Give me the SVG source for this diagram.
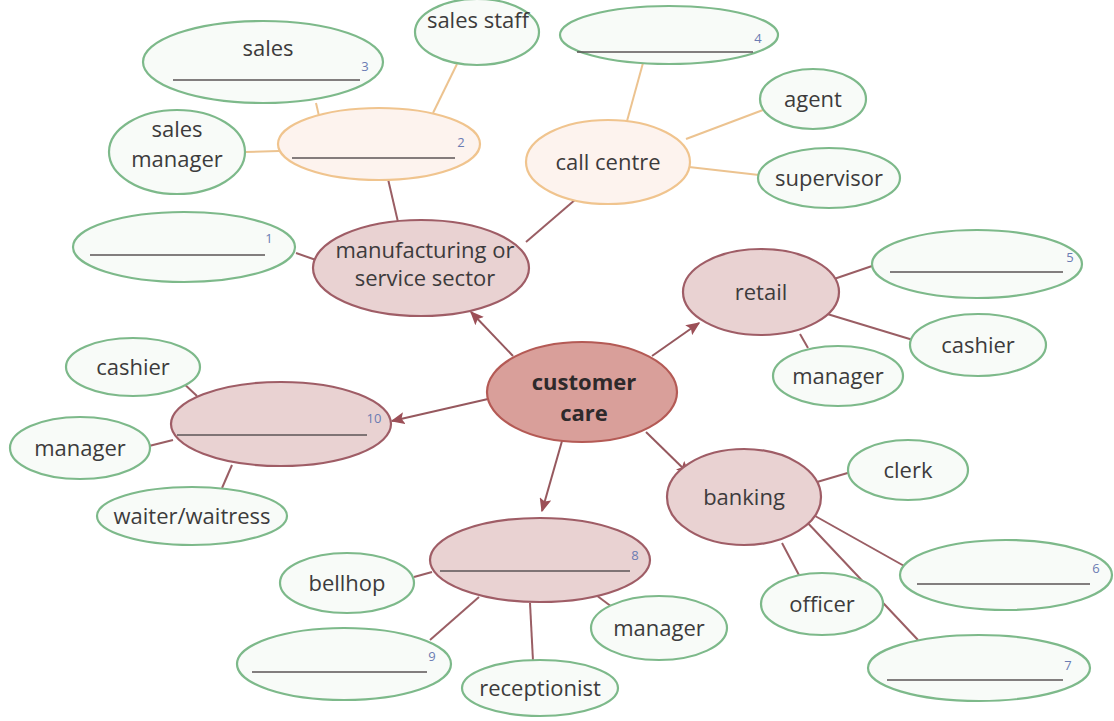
<svg xmlns="http://www.w3.org/2000/svg" width="1114" height="721" viewBox="0 0 1114 721">
<defs>
<marker id="ah" viewBox="0 0 10 10" refX="9" refY="5" markerWidth="14" markerHeight="12" orient="auto" markerUnits="userSpaceOnUse" preserveAspectRatio="none">
<path d="M0,0 L10,5 L0,10 L2,5 Z" fill="#9c4f57"/>
</marker>
<style>
.g{fill:#f8fbf8;stroke:#7db98a;stroke-width:2.2}
.o{fill:#fdf3ee;stroke:#f0c48e;stroke-width:2.2}
.s{fill:#e9d2d2;stroke:#9f5d66;stroke-width:2.2}
.c{fill:#d99f9a;stroke:#b45a55;stroke-width:2.2}
.t{font-family:"Open Sans","Noto Sans",sans-serif;font-size:22px;fill:#3d3b3c;text-anchor:middle}
.tb{font-family:"Open Sans","Noto Sans",sans-serif;font-size:22px;font-weight:bold;fill:#2e2a2b;text-anchor:middle}
.n{font-family:"Open Sans","Noto Sans",sans-serif;font-size:13px;fill:#6b7cb3;text-anchor:middle}
.bl{stroke:#5b5556;stroke-width:1.6}
.lm{stroke:#9a5e64;stroke-width:2;fill:none}
.lo{stroke:#ecc390;stroke-width:2;fill:none}
.la{stroke:#96585e;stroke-width:2;fill:none}
</style>
</defs>
<g id="connectors">
<line class="lm" x1="296" y1="253" x2="316" y2="260"/>
<line class="lm" x1="388" y1="179" x2="398" y2="222"/>
<line class="lm" x1="526" y1="242" x2="576" y2="199"/>
<line class="lo" x1="433" y1="113" x2="457" y2="64"/>
<line class="lo" x1="316" y1="103" x2="319" y2="116"/>
<line class="lo" x1="245" y1="152" x2="279" y2="151"/>
<line class="lo" x1="627" y1="121" x2="643" y2="63"/>
<line class="lo" x1="686" y1="139" x2="763" y2="110"/>
<line class="lo" x1="689" y1="167" x2="759" y2="175"/>
<line class="lm" x1="834" y1="279" x2="875" y2="265"/>
<line class="lm" x1="824" y1="313" x2="913" y2="340"/>
<line class="lm" x1="800" y1="334" x2="808" y2="348"/>
<line class="lm" x1="181" y1="381" x2="197" y2="396"/>
<line class="lm" x1="149" y1="446" x2="173" y2="440"/>
<line class="lm" x1="232" y1="465" x2="222" y2="488"/>
<line class="lm" x1="817" y1="482" x2="851" y2="472"/>
<line class="lm" x1="808" y1="512" x2="906" y2="567"/>
<line class="lm" x1="782" y1="543" x2="800" y2="577"/>
<line class="lm" x1="805" y1="520" x2="918" y2="640"/>
<line class="lm" x1="414" y1="577" x2="432" y2="572"/>
<line class="lm" x1="479" y1="597" x2="430" y2="640"/>
<line class="lm" x1="530" y1="603" x2="533" y2="661"/>
<line class="lm" x1="596" y1="595" x2="612" y2="607"/>
<line class="la" x1="513" y1="356" x2="471" y2="312" marker-end="url(#ah)"/>
<line class="la" x1="652" y1="356" x2="699" y2="323" marker-end="url(#ah)"/>
<line class="la" x1="488" y1="399" x2="392" y2="421" marker-end="url(#ah)"/>
<line class="la" x1="562" y1="441" x2="542" y2="511" marker-end="url(#ah)"/>
<line class="la" x1="646" y1="432" x2="689" y2="474" marker-end="url(#ah)"/>
</g>
<g id="n3"><ellipse class="g" cx="263" cy="62" rx="120" ry="41"/><text class="t" x="268" y="56">sales</text><line class="bl" x1="173" y1="80" x2="360" y2="80"/><text class="n" x="365" y="71">3</text></g>
<g id="sales-staff"><ellipse class="g" cx="477" cy="32" rx="62" ry="33"/><text class="t" x="478" y="28">sales staff</text></g>
<g id="n4"><ellipse class="g" cx="669" cy="35" rx="109" ry="29"/><line class="bl" x1="577" y1="52" x2="753" y2="52"/><text class="n" x="758" y="43">4</text></g>
<g id="sales-manager"><ellipse class="g" cx="177" cy="152" rx="68" ry="42"/><text class="t" x="177" y="137">sales</text><text class="t" x="177" y="167">manager</text></g>
<g id="n2"><ellipse class="o" cx="379" cy="144" rx="101" ry="36"/><line class="bl" x1="292" y1="158" x2="455" y2="158"/><text class="n" x="461" y="147">2</text></g>
<g id="call-centre"><ellipse class="o" cx="608" cy="162" rx="82" ry="42"/><text class="t" x="608" y="170">call centre</text></g>
<g id="agent"><ellipse class="g" cx="813" cy="99" rx="53" ry="30"/><text class="t" x="813" y="107">agent</text></g>
<g id="supervisor"><ellipse class="g" cx="829" cy="178" rx="71" ry="30"/><text class="t" x="829" y="186">supervisor</text></g>
<g id="n1"><ellipse class="g" cx="184" cy="247" rx="111" ry="35"/><line class="bl" x1="90" y1="255" x2="265" y2="255"/><text class="n" x="269" y="243">1</text></g>
<g id="manufacturing"><ellipse class="s" cx="421" cy="268" rx="108" ry="48"/><text class="t" x="425" y="258">manufacturing or</text><text class="t" x="425" y="286">service sector</text></g>
<g id="retail"><ellipse class="s" cx="761" cy="292" rx="78" ry="43"/><text class="t" x="761" y="300">retail</text></g>
<g id="n5"><ellipse class="g" cx="977" cy="264" rx="105" ry="34"/><line class="bl" x1="890" y1="272" x2="1063" y2="272"/><text class="n" x="1070" y="262">5</text></g>
<g id="cashier-r"><ellipse class="g" cx="978" cy="345" rx="68" ry="31"/><text class="t" x="978" y="353">cashier</text></g>
<g id="manager-r"><ellipse class="g" cx="838" cy="376" rx="65" ry="30"/><text class="t" x="838" y="384">manager</text></g>
<g id="customer-care"><ellipse class="c" cx="582" cy="392" rx="95" ry="50"/><text class="tb" x="584" y="390">customer</text><text class="tb" x="584" y="421">care</text></g>
<g id="cashier-l"><ellipse class="g" cx="133" cy="367" rx="67" ry="29"/><text class="t" x="133" y="375">cashier</text></g>
<g id="n10"><ellipse class="s" cx="281" cy="424" rx="110" ry="42"/><line class="bl" x1="177" y1="435" x2="367" y2="435"/><text class="n" x="374" y="423">10</text></g>
<g id="manager-l"><ellipse class="g" cx="80" cy="448" rx="70" ry="31"/><text class="t" x="80" y="456">manager</text></g>
<g id="waiter"><ellipse class="g" cx="192" cy="516" rx="95" ry="29"/><text class="t" x="192" y="524">waiter/waitress</text></g>
<g id="banking"><ellipse class="s" cx="744" cy="497" rx="77" ry="48"/><text class="t" x="744" y="505">banking</text></g>
<g id="clerk"><ellipse class="g" cx="908" cy="470" rx="60" ry="30"/><text class="t" x="908" y="478">clerk</text></g>
<g id="n6"><ellipse class="g" cx="1006" cy="575" rx="106" ry="35"/><line class="bl" x1="917" y1="584" x2="1090" y2="584"/><text class="n" x="1096" y="573">6</text></g>
<g id="officer"><ellipse class="g" cx="822" cy="604" rx="61" ry="31"/><text class="t" x="822" y="612">officer</text></g>
<g id="n7"><ellipse class="g" cx="979" cy="668" rx="111" ry="33"/><line class="bl" x1="887" y1="680" x2="1063" y2="680"/><text class="n" x="1068" y="670">7</text></g>
<g id="n8"><ellipse class="s" cx="540" cy="560" rx="110" ry="42"/><line class="bl" x1="440" y1="571" x2="630" y2="571"/><text class="n" x="635" y="560">8</text></g>
<g id="bellhop"><ellipse class="g" cx="347" cy="583" rx="67" ry="30"/><text class="t" x="347" y="591">bellhop</text></g>
<g id="n9"><ellipse class="g" cx="344" cy="664" rx="107" ry="36"/><line class="bl" x1="252" y1="672" x2="427" y2="672"/><text class="n" x="432" y="661">9</text></g>
<g id="receptionist"><ellipse class="g" cx="540" cy="688" rx="78" ry="28"/><text class="t" x="540" y="696">receptionist</text></g>
<g id="manager-h"><ellipse class="g" cx="659" cy="628" rx="68" ry="32"/><text class="t" x="659" y="636">manager</text></g>
</svg>
